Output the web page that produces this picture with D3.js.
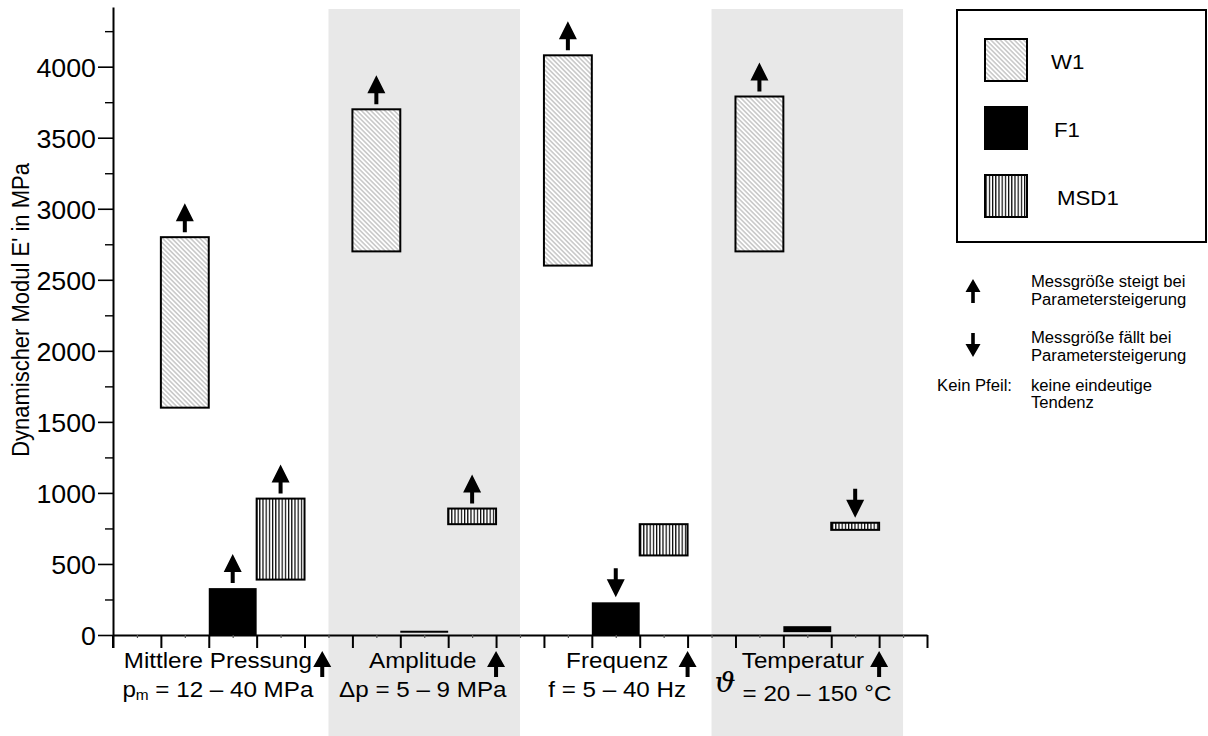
<!DOCTYPE html>
<html><head><meta charset="utf-8">
<script src="https://cdn.jsdelivr.net/npm/d3@7"></script>
<style>
html,body{margin:0;padding:0;background:#fff;}
svg{display:block;}
text{font-family:"Liberation Sans",Arial,Helvetica,sans-serif;fill:#000;}
</style></head><body>
<svg id="chart" width="1208" height="736"></svg>
<script>
// ---- data ----
const groupNames = ["Mittlere Pressung", "Amplitude", "Frequenz", "Temperatur"];
const paramSymbols = ["p", "Δp", "f", "ϑ"];
const paramSubs = ["m", "", "", ""];
const paramRanges = ["= 12 – 40 MPa", "= 5 – 9 MPa", "= 5 – 40 Hz", "= 20 – 150 °C"];
const seriesNames = ["W1", "F1", "MSD1"];
const w1Low  = [1600, 2700, 2600, 2700];
const w1High = [2800, 3700, 4080, 3790];
const f1Low  = [0, 16, 0, 20];
const f1High = [330, 30, 230, 62];
const msdLow  = [390, 780, 560, 740];
const msdHigh = [960, 890, 780, 790];
const w1Trend  = ["up", "up", "up", "up"];
const f1Trend  = ["up", null, "down", null];
const msdTrend = ["up", "up", null, "down"];
const yMajorTicks = [0, 500, 1000, 1500, 2000, 2500, 3000, 3500, 4000];
const yMinorTicks = [250, 750, 1250, 1750, 2250, 2750, 3250, 3750, 4250];
const yTitle = "Dynamischer Modul E' in MPa";
const trendUpText = ["Messgröße steigt bei", "Parametersteigerung"];
const trendDownText = ["Messgröße fällt bei", "Parametersteigerung"];
const noTrendLabel = "Kein Pfeil:";
const noTrendText = ["keine eindeutige", "Tendenz"];

// ---- layout ----
const SX = 1.1;                  // horizontal text widening
const labelCenterUnits = [2.19, 6.47, 10.53, 14.41];
const labelArrowUnits = [4.37, 8, 12, 16];

const svg = d3.select("#chart");
const x = d3.scaleLinear().domain([0, 17]).range([113, 927]);
const y = d3.scaleLinear().domain([0, 4420]).range([635, 7]);

function stext(parent, px, py, size, anchor, sx) {
  return parent.append("text")
    .attr("transform", `translate(${px},${py}) scale(${sx || SX},1)`)
    .attr("font-size", size)
    .attr("text-anchor", anchor || "start");
}

function arrowPath(hw, hh, sw, len) {
  return `M0,0 L${hw},${hh} L${sw},${hh} L${sw},${len} L${-sw},${len} L${-sw},${hh} L${-hw},${hh} Z`;
}
const plotArrow = arrowPath(9, 18, 2, 29);
const labelArrow = arrowPath(9, 16, 2, 26);
const legendArrow = arrowPath(7.5, 13, 1.8, 24);

// ---- patterns ----
const defs = svg.append("defs");
const pW1 = defs.append("pattern").attr("id", "hatchW1")
  .attr("patternUnits", "userSpaceOnUse").attr("width", 3.3).attr("height", 3.3)
  .attr("patternTransform", "rotate(45)");
pW1.append("rect").attr("width", 3.3).attr("height", 3.3).attr("fill", "#fff");
pW1.append("line").attr("x1", 0).attr("y1", 0.8).attr("x2", 3.3).attr("y2", 0.8)
  .attr("stroke", "#b8b8b8").attr("stroke-width", 1.2);
const pMSD = defs.append("pattern").attr("id", "hatchMSD")
  .attr("patternUnits", "userSpaceOnUse").attr("width", 3.2).attr("height", 10);
pMSD.append("rect").attr("width", 3.2).attr("height", 10).attr("fill", "#fff");
pMSD.append("rect").attr("x", 0).attr("width", 1.2).attr("height", 10).attr("fill", "#000");

const seriesFill = ["url(#hatchW1)", "#000", "url(#hatchMSD)"];
const seriesLow = [w1Low, f1Low, msdLow];
const seriesHigh = [w1High, f1High, msdHigh];
const seriesTrend = [w1Trend, f1Trend, msdTrend];

// ---- shaded parameter bands ----
const bandGroups = [1, 3];
svg.append("g").selectAll("rect").data(bandGroups).join("rect")
  .attr("x", g => x(0.5 + 4 * g))
  .attr("width", g => x(4.5 + 4 * g) - x(0.5 + 4 * g))
  .attr("y", 9).attr("height", 736 - 9)
  .attr("fill", "#e8e8e8");

// ---- range bars ----
const bars = [];
seriesNames.forEach((s, si) => {
  groupNames.forEach((gname, gi) => {
    bars.push({ si, gi, lo: seriesLow[si][gi], hi: seriesHigh[si][gi], trend: seriesTrend[si][gi] });
  });
});
const slot = d => 1 + d.si + 4 * d.gi;
svg.append("g").selectAll("rect").data(bars).join("rect")
  .attr("x", d => x(slot(d)))
  .attr("width", d => x(slot(d) + 1) - x(slot(d)))
  .attr("y", d => y(d.hi))
  .attr("height", d => y(d.lo) - y(d.hi))
  .attr("fill", d => seriesFill[d.si])
  .attr("stroke", d => d.si === 1 ? "none" : "#000")
  .attr("stroke-width", 2);

// ---- axes ----
const yAxis = svg.append("g").attr("transform", `translate(${x(0)},0)`)
  .call(d3.axisLeft(y).tickValues(yMajorTicks).tickSize(15).tickSizeOuter(0).tickFormat(d3.format("d")));
yAxis.select(".domain").attr("stroke-width", 2);
yAxis.selectAll(".tick line").attr("stroke-width", 1.6);
const TSX = 1.03;
yAxis.selectAll(".tick text")
  .attr("font-size", 26).attr("font-family", "Liberation Sans, Arial, sans-serif")
  .attr("x", -17 / TSX).attr("dy", "0.36em").attr("transform", `scale(${TSX},1)`);
const yMinor = svg.append("g").attr("transform", `translate(${x(0)},0)`)
  .call(d3.axisLeft(y).tickValues(yMinorTicks).tickSize(8).tickSizeOuter(0).tickFormat(""));
yMinor.select(".domain").remove();
yMinor.selectAll(".tick line").attr("stroke-width", 1.4);

const xTicks = d3.range(0, 18);
const xHalf = d3.range(0.5, 17, 1);
const xAxis = svg.append("g").attr("transform", `translate(0,${y(0)})`)
  .call(d3.axisBottom(x).tickValues(xTicks).tickSize(13).tickSizeOuter(0).tickFormat(""));
xAxis.select(".domain").attr("stroke-width", 2);
xAxis.selectAll(".tick line").attr("stroke-width", 2);
const xMinor = svg.append("g").attr("transform", `translate(0,${y(0)})`)
  .call(d3.axisBottom(x).tickValues(xHalf).tickSize(3).tickSizeOuter(0).tickFormat(""));
xMinor.select(".domain").remove();
xMinor.selectAll(".tick line").attr("stroke", "#555").attr("stroke-width", 1.2);

// y-axis line continues slightly below the x axis
svg.append("line").attr("x1", x(0)).attr("x2", x(0)).attr("y1", y(0)).attr("y2", y(0) + 13)
  .attr("stroke", "#000").attr("stroke-width", 2);

// ---- trend arrows on the bars ----
svg.append("g").selectAll("path").data(bars.filter(d => d.trend)).join("path")
  .attr("d", plotArrow)
  .attr("fill", "#000")
  .attr("transform", d => {
    const cx = x(slot(d) + 0.5);
    const top = y(d.hi) - 5;
    return d.trend === "up" ? `translate(${cx},${top - 29})` : `translate(${cx},${top}) scale(1,-1)`;
  });

// ---- y title ----
svg.append("text")
  .attr("transform", `translate(29,310) rotate(-90) scale(1,1.1)`)
  .attr("text-anchor", "middle").attr("font-size", 22)
  .text(yTitle);

// ---- parameter labels ----
const labels = svg.append("g");
const line1Y = 668, line2Y = 697;
groupNames.forEach((name, gi) => {
  const cx = x(labelCenterUnits[gi]);
  stext(labels, cx, line1Y, 22, "middle").text(name);
  if (paramSymbols[gi] === "ϑ") {
    const t = stext(labels, cx, line2Y + 4, 22, "middle");
    t.append("tspan").attr("font-family", "DejaVu Serif, serif").attr("font-style", "italic")
      .attr("font-size", 27).attr("dy", -9).text(paramSymbols[gi]);
    t.append("tspan").attr("dy", 9).text(" " + paramRanges[gi]);
  } else {
    const t = stext(labels, cx, line2Y, 22, "middle");
    t.append("tspan").text(paramSymbols[gi]);
    if (paramSubs[gi]) t.append("tspan").attr("font-size", 14).attr("dy", 3).text(paramSubs[gi]);
    t.append("tspan").attr("dy", paramSubs[gi] ? -3 : 0).text(" " + paramRanges[gi]);
  }
  labels.append("path").attr("d", labelArrow).attr("fill", "#000")
    .attr("transform", `translate(${x(labelArrowUnits[gi])},${line1Y - 17})`);
});

// ---- legend ----
const legend = svg.append("g");
legend.append("rect").attr("x", 957).attr("y", 10).attr("width", 249).attr("height", 232)
  .attr("fill", "#fff").attr("stroke", "#000").attr("stroke-width", 2);
const swY = [39, 107, 175];
seriesNames.forEach((s, si) => {
  legend.append("rect").attr("x", 985).attr("y", swY[si]).attr("width", 42).attr("height", 42)
    .attr("fill", seriesFill[si]).attr("stroke", "#000").attr("stroke-width", 2);
  stext(legend, 1051 + si * 3, swY[si] + 30, 21, "start", 1.06).text(s);
});

legend.append("path").attr("d", legendArrow).attr("fill", "#000")
  .attr("transform", "translate(973,279)");
trendUpText.forEach((t, i) => stext(legend, 1031, 287 + i * 18, 16, "start", 1.04).text(t));
legend.append("path").attr("d", legendArrow).attr("fill", "#000")
  .attr("transform", "translate(973,357) scale(1,-1)");
trendDownText.forEach((t, i) => stext(legend, 1031, 343 + i * 18, 16, "start", 1.04).text(t));
stext(legend, 1012, 391, 16, "end", 1.04).text(noTrendLabel);
noTrendText.forEach((t, i) => stext(legend, 1031, 391 + i * 17, 16, "start", 1.04).text(t));
</script>
</body></html>
